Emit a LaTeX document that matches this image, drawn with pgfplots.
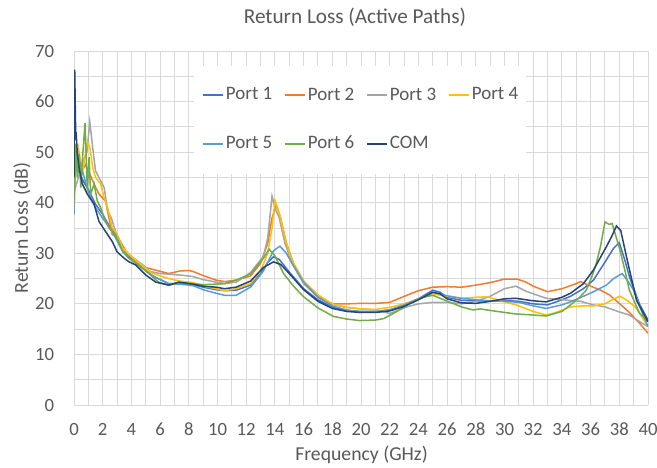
\documentclass[border=0pt]{standalone}
\usepackage{fontspec}
\setmainfont{Carlito}
\usepackage{pgfplots}
\pgfplotsset{compat=1.18}
\definecolor{cA}{HTML}{4472C4}
\definecolor{cB}{HTML}{ED7D31}
\definecolor{cC}{HTML}{A5A5A5}
\definecolor{cD}{HTML}{FFC000}
\definecolor{cE}{HTML}{5B9BD5}
\definecolor{cF}{HTML}{70AD47}
\definecolor{cG}{HTML}{264478}
\definecolor{txt}{HTML}{595959}
\definecolor{grd}{HTML}{D9D9D9}
\begin{document}
\begin{tikzpicture}
\path[use as bounding box] (-37pt,-31pt) rectangle (291.5pt,202.5pt);
\begin{axis}[
  at={(0,0)}, anchor=south west,
  scale only axis, width=287pt, height=177pt,
  xmin=0, xmax=40, ymin=0, ymax=70,
  xtick={0,2,...,40}, minor x tick num=1,
  ytick={0,10,...,70}, minor y tick num=1,
  grid=both,
  major grid style={draw=grd, line width=0.5pt},
  minor grid style={draw=grd, line width=0.5pt},
  major tick length=0pt, minor tick length=0pt,
  axis line style={draw=none},
  tick label style={font=\fontsize{9.35}{11}\selectfont, text=txt},
  /pgf/number format/assume math mode=true,
  xticklabel style={yshift=-5.5pt},
  yticklabel style={xshift=-6.4pt},
  xlabel={Frequency (GHz)}, ylabel={Return Loss (dB)},
  label style={font=\fontsize{9.85}{12}\selectfont, text=txt},
  xlabel style={at={(axis description cs:0.5009,-0.1412)}, anchor=center},
  ylabel style={at={(axis description cs:-0.0906,0.5)}, anchor=center},
  title={Return Loss (Active Paths)},
  title style={font=\fontsize{10.6}{13}\selectfont, text=txt, at={(axis description cs:0.4895,1.0621)}, anchor=center},
  legend columns=4,
  legend cell align=left,
  legend image code/.code={\draw[#1, line width=1.1pt] (0pt,0pt) -- (10pt,0pt);},
  legend style={at={(axis cs:19.93,56.4)}, anchor=center, draw=none, fill=white,
    nodes={inner sep=0pt}, inner xsep=4pt, inner ysep=11pt,
    font=\fontsize{9.5}{11}\selectfont, text=txt, row sep=16.5pt,
    /tikz/every odd column/.append style={column sep=1pt},
    /tikz/every even column/.append style={column sep=5.7pt}},
  every axis plot/.append style={line width=0.75pt},
]
% Port 1
\addplot[cA] coordinates {(0,50.3)(0.1,47.7)(0.4,45.7)(0.7,44)(1.05,42.3)(1.5,39.7)(2.0,37.7)(2.4,35.7)(2.9,33.7)(3.4,31)(3.85,29.3)(4.8,27)(5.5,25.5)(6.6,24)(7.4,24)(8.3,23.8)(9.0,23.3)(9.9,22.8)(10.5,22.6)(11.3,22.7)(12.3,23.7)(13.0,26)(13.5,28.2)(13.9,29.3)(14.3,28.8)(15.0,26.3)(16.0,23)(17.0,20.8)(18.0,19.4)(19.0,18.7)(20.0,18.5)(21.0,18.5)(22.0,18.8)(23.0,19.7)(24.0,21.0)(25.0,22.7)(25.5,22.3)(26.0,21.3)(27.0,20.7)(28.0,20.6)(29.0,20.6)(30.0,20.7)(31.0,20.5)(32.0,20.0)(33.0,19.8)(34.0,20.8)(34.6,21.5)(35.5,23.0)(36.2,24.7)(37.1,28.7)(37.6,31)(38.0,32.1)(38.4,28.5)(38.7,25.4)(39.4,20)(40,16.8)};
\addlegendentry{Port 1}
% Port 2
\addplot[cB] coordinates {(0,44)(0.2,48)(0.5,46)(0.8,47.5)(1.05,46)(1.4,43.7)(1.74,41.7)(2.2,40.3)(2.67,33.7)(3.1,33)(3.6,30.5)(4.3,28.3)(5.0,27.2)(5.5,26.8)(6.6,26)(7.4,26.5)(8.0,26.6)(8.3,26.4)(9.0,25.6)(9.9,24.7)(10.5,24.4)(11.3,24.7)(12.3,25.5)(13.0,28)(13.5,32)(13.8,37)(14.1,39.5)(14.4,37)(14.8,32)(15.3,28)(16.0,24.5)(17.0,21.5)(18.0,20.0)(19.0,20.0)(20.0,20.1)(21.0,20.1)(22.0,20.3)(23.2,21.7)(24.0,22.6)(25.0,23.3)(26.0,23.4)(27.0,23.3)(28.0,23.7)(29.0,24.2)(30.0,24.9)(30.9,24.9)(31.5,24.3)(32.0,23.5)(33.0,22.4)(34.0,23.0)(35.0,24.0)(35.3,24.4)(36.0,23.5)(36.7,22.7)(37.3,21.8)(38.0,20.1)(38.7,18.3)(39.4,16.2)(40,14.2)};
\addlegendentry{Port 2}
% Port 3
\addplot[cC] coordinates {(0,42)(0.3,45)(0.6,48)(0.9,50)(1.1,56)(1.3,51)(1.5,46.3)(1.74,45)(2.1,43)(2.35,38.3)(2.6,37)(2.9,34.3)(3.4,31)(3.85,29.7)(4.8,27.7)(5.3,26.4)(6.0,26)(7.4,25.7)(8.3,25.4)(9.0,24.8)(9.9,24.3)(10.5,24)(11.3,24.3)(12.3,26.2)(13.2,29.4)(13.5,33)(13.8,41.3)(14.0,39)(14.3,37)(14.7,32)(15.2,28)(16.0,24)(17.0,21.3)(18.0,19.9)(19.0,19.3)(20.0,19.0)(21.0,18.8)(22.0,18.1)(23.2,19.4)(24.0,20.0)(25.0,20.3)(26.0,20.3)(27.0,20.0)(28.0,20.5)(29.0,21.5)(30.0,23.0)(30.8,23.5)(31.5,22.5)(32.0,22.0)(32.9,21.1)(34.5,20.7)(35.3,20.5)(36.2,19.8)(37.0,19.4)(38.0,18.4)(38.7,17.8)(39.4,16.5)(40,15.5)};
\addlegendentry{Port 3}
% Port 4
\addplot[cD] coordinates {(0,45)(0.3,51)(0.6,46)(0.93,52)(1.1,51)(1.3,47)(1.5,45)(1.86,43.7)(2.1,41)(2.35,39)(2.67,35)(3.0,33.7)(3.4,31)(3.85,29.7)(4.8,27.5)(5.5,26)(6.6,25)(7.4,24.5)(8.3,24.2)(9.0,23.5)(9.9,23)(10.5,22.6)(11.3,23)(12.3,24)(13.0,26.5)(13.5,30)(13.8,35)(14.0,40.5)(14.3,38)(14.7,33)(15.2,28.5)(16.0,24.5)(17.0,21.8)(18.0,20.0)(19.0,19.3)(20.0,19.0)(21.0,18.9)(22.0,19.3)(23.0,20.0)(24.0,21.0)(25.0,22.0)(26.0,21.5)(27.0,21.1)(28.0,21.3)(28.8,21.4)(29.5,20.8)(30.8,19.8)(32.0,18.5)(32.9,17.8)(33.5,18.2)(34.6,19.4)(35.5,19.6)(36.2,19.6)(37.0,20.0)(37.5,20.8)(38.05,21.5)(38.6,20.6)(39.2,19.1)(40,15.5)};
\addlegendentry{Port 4}
% Port 5
\addplot[cE] coordinates {(0,37.7)(0.07,48.3)(0.23,49.7)(0.58,46.3)(1.05,41.7)(1.5,39)(1.98,37)(2.67,34.3)(3.4,30.3)(3.85,29)(4.8,27)(5.5,25.5)(6.6,24)(7.4,23.9)(8.3,23.6)(9.0,22.8)(9.9,22.1)(10.5,21.7)(11.3,21.7)(12.3,23.3)(13.2,26.5)(13.9,30.5)(14.35,31.4)(14.8,30)(15.3,27.5)(16.0,24.3)(17.0,21.3)(18.0,19.6)(19.0,18.8)(20.0,18.4)(21.0,18.4)(22.0,18.8)(23.0,19.8)(24.0,21.0)(25.0,22.3)(26.0,21.6)(27.0,21.1)(28.0,20.8)(29.0,20.6)(30.0,20.5)(31.0,20.3)(32.0,19.6)(32.9,19.1)(34.0,19.8)(34.6,20.4)(35.5,21.5)(36.2,22.4)(37.1,23.7)(37.6,25)(38.2,26.0)(38.6,24.5)(39.0,22.7)(39.6,18.2)(40,15.5)};
\addlegendentry{Port 5}
% Port 6
\addplot[cF] coordinates {(0,61)(0.02,40)(0.12,51.7)(0.23,45)(0.35,49.7)(0.47,43)(0.58,48.3)(0.77,55.8)(0.93,42.3)(1.05,49)(1.16,41.7)(1.4,43.7)(1.63,40.3)(1.86,39)(2.1,37)(2.44,35)(2.9,33.7)(3.4,30.3)(3.84,29)(4.8,27)(5.9,24.3)(6.6,23.7)(7.4,24.2)(8.3,24)(9.0,23.8)(9.9,23.9)(10.5,24)(11.3,24.7)(12.3,25.9)(13.2,29)(13.6,30.8)(14.0,29.5)(14.6,26)(15.3,23.5)(16.0,21.4)(17.0,19.2)(18.1,17.5)(19.0,17.0)(19.9,16.7)(21.0,16.8)(21.6,17.1)(22.5,18.5)(23.4,20.1)(24.2,21.2)(25.0,21.7)(25.6,21.0)(26.4,20.1)(27.0,19.4)(27.8,18.8)(28.3,19.0)(29.5,18.5)(30.8,18.0)(32.0,17.8)(32.9,17.6)(34.0,18.5)(34.6,19.8)(35.2,21.2)(35.7,22.7)(36.1,25.5)(36.4,28)(36.7,31.5)(37.0,36.2)(37.3,35.7)(37.5,35.9)(37.7,34)(38.05,30.6)(38.4,26.5)(38.7,22.7)(39.4,18.2)(40,16.5)};
\addlegendentry{Port 6}
% COM
\addplot[cG] coordinates {(0,45)(0.05,66.3)(0.12,53)(0.16,53.3)(0.23,49.7)(0.35,47)(0.58,43.7)(0.93,41.7)(1.4,39.7)(1.74,36.3)(2.2,34.3)(2.67,32.3)(3.0,30.3)(3.5,29)(3.84,28.3)(4.3,27.7)(5.0,25.7)(5.7,24.3)(6.6,23.7)(7.3,24.3)(8.3,23.9)(9.0,23.5)(9.9,23.3)(10.5,23)(11.3,23.3)(12.3,24.5)(13.2,27.2)(13.9,28.3)(14.4,27.8)(15.0,26)(16.0,22.8)(17.0,20.5)(18.0,19.1)(19.0,18.5)(20.0,18.3)(21.0,18.3)(22.0,18.6)(23.0,19.5)(24.0,20.8)(25.0,22.3)(25.5,22.0)(26.0,21.0)(27.0,20.2)(28.0,20.1)(29.0,20.5)(30.0,21.0)(30.8,21.1)(32.0,20.6)(32.9,20.4)(34.0,21.3)(34.6,22.1)(35.5,24)(36.2,26.7)(37.1,31.3)(37.5,33.5)(37.8,35.4)(38.1,34.5)(38.5,29.3)(39.2,20.7)(40,16.5)};
\addlegendentry{COM}
\end{axis}
\end{tikzpicture}
\end{document}
